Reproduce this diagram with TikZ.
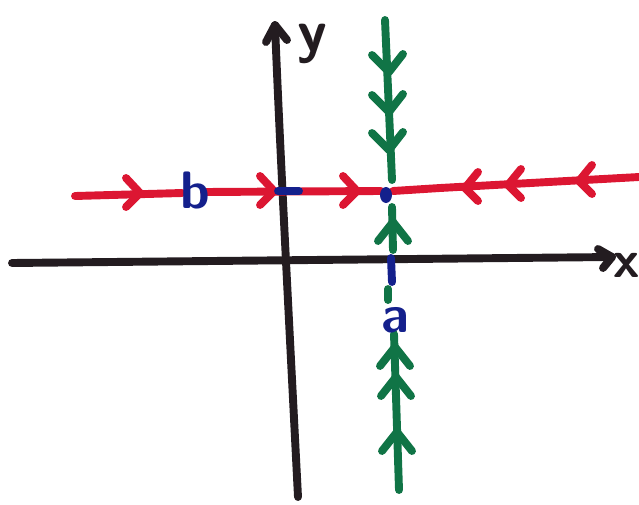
\documentclass[tikz,border=0pt]{standalone}
\usepackage{tikz}
\usetikzlibrary{calc}
\definecolor{ink}{RGB}{35,28,32}
\definecolor{marker}{RGB}{220,22,50}
\definecolor{pine}{RGB}{16,116,70}
\definecolor{cobalt}{RGB}{20,32,140}

\tikzset{
  pen/.style={line width=4.5pt,line cap=round,line join=round},
  scrawl/.style={font=\sffamily\bfseries\fontsize{#1}{#1}\selectfont,inner sep=0pt}
}

\begin{document}
\begin{tikzpicture}[x=0.02cm,y=-0.02cm]
  \useasboundingbox (0,0) rectangle (639,504);
  % axes
  \coordinate (xl) at (12,263);
  \coordinate (xr) at (612,257);
  \coordinate (yb) at (298,497);
  \coordinate (yt) at (275,25);
  \draw[pen,ink] (xl) -- (xr);
  \draw[pen,ink] (598,249) -- (xr) -- (603,268);
  \draw[pen,ink] (yb) .. controls (288,300) and (280,150) .. (yt);
  \draw[pen,ink] (266,42) -- (yt) -- (287,40);
  \node[scrawl=30pt,text=ink] (xlab) at (627,265) {x};
  \node[scrawl=34pt,text=ink] (ylab) at (312,44) {y};
  % red line, flowing to the blue point
  \draw[pen,marker] (75,196) -- (182,193);
  \draw[pen,marker] (204,192) -- (381,191);
  \draw[pen,marker] (393,191) -- (440,188) -- (639,177);
  \foreach \x/\y in {140/193,274/191,357/191}
    \draw[pen,marker] (\x-14,\y-15) -- (\x,\y) -- (\x-14,\y+14);
  \foreach \x/\y in {465/188,508/185,579/181}
    \draw[pen,marker] (\x+13,\y-16) -- (\x,\y) -- (\x+13,\y+13);
  % green line, broken round the points
  \draw[pen,pine] (385,20) -- (392,180);
  \draw[pen,pine] (392,207) -- (393,250);
  \draw[pen,pine] (388,289) -- (388,300);
  \draw[pen,pine] (394,334) -- (399,490);
  \foreach \y in {72,112,150}
    \draw[pen,pine] (372,\y-17) -- (389,\y) -- (403,\y-18);
  \foreach \x/\y in {393/222,395/347,396/377,397/432}
    \draw[pen,pine] (\x-15,\y+19) -- (\x,\y) -- (\x+15,\y+19);
  % blue marks
  \draw[pen,cobalt] (278,191) -- (299,191);
  \fill[cobalt] (386,195) ellipse (6 and 8);
  \draw[pen,cobalt] (391,258) -- (392,282);
  \node[scrawl=30pt,text=cobalt] (b) at (195,190) {b};
  \node[scrawl=30pt,text=cobalt] (a) at (395,320) {a};
\end{tikzpicture}
\end{document}
